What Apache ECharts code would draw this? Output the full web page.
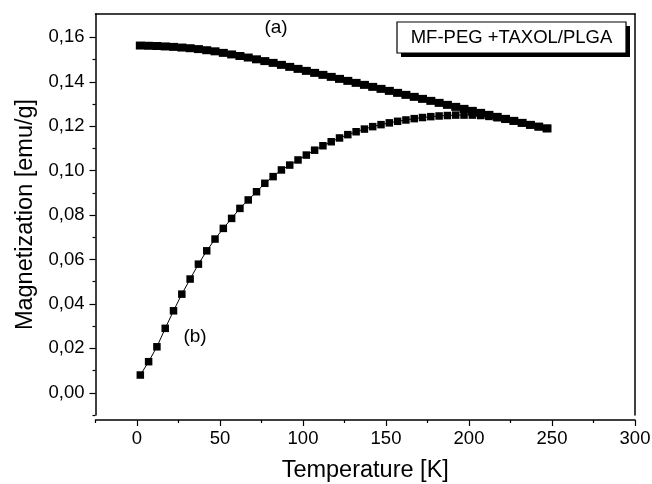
<!DOCTYPE html>
<html><head><meta charset="utf-8">
<script src="https://cdn.jsdelivr.net/npm/echarts@6/dist/echarts.min.js"></script>
<style>html,body{margin:0;padding:0;background:#fff}#c{width:652px;height:484px}</style>
</head><body><div id="c"></div>
<script>
const temperature = [2,7,12,17,22,27,32,37,42,47,52,57,62,67,72,77,82,87,92,97,102,107,112,117,122,127,132,137,142,147,152,157,162,167,172,177,182,187,192,197,202,207,212,217,222,227,232,237,242,247];
const magA = [0.1563,0.1562,0.1561,0.1559,0.1557,0.1554,0.1551,0.1547,0.1542,0.1537,0.1530,0.1523,0.1516,0.1509,0.1501,0.1493,0.1485,0.1476,0.1467,0.1458,0.1449,0.1440,0.1431,0.1422,0.1413,0.1404,0.1395,0.1386,0.1377,0.1368,0.1359,0.1350,0.1341,0.1332,0.1323,0.1314,0.1305,0.1296,0.1287,0.1278,0.1269,0.1260,0.1251,0.1242,0.1233,0.1224,0.1215,0.1206,0.1198,0.1190];
const magB = [0.0080,0.0140,0.0207,0.0290,0.0369,0.0444,0.0512,0.0579,0.0639,0.0692,0.0740,0.0785,0.0830,0.0868,0.0905,0.0943,0.0973,0.1003,0.1025,0.1048,0.1070,0.1092,0.1112,0.1130,0.1147,0.1162,0.1175,0.1187,0.1198,0.1207,0.1215,0.1222,0.1228,0.1234,0.1239,0.1243,0.1246,0.1248,0.1250,0.1250,0.1250,0.1248,0.1244,0.1238,0.1231,0.1223,0.1215,0.1206,0.1198,0.1190];
const xMajorTicks = [0,50,100,150,200,250,300];
const xMinorTicks = [-25,25,75,125,175,225,275];
const yMajorTicks = [0,0.02,0.04,0.06,0.08,0.10,0.12,0.14,0.16];
const yMinorTicks = [-0.01,0.01,0.03,0.05,0.07,0.09,0.11,0.13,0.15];
const xTitle = 'Temperature [K]';
const yTitle = 'Magnetization [emu/g]';
const sampleName = 'MF-PEG +TAXOL/PLGA';
const curveLabels = ['(a)', '(b)'];

const FONT = '"Liberation Sans", Arial, sans-serif';
const chart = echarts.init(document.getElementById('c'), null, {renderer: 'canvas'});
const line = {lineStyle: {color: '#000', width: 1.5}};
const pairs = (ys) => temperature.map((t, i) => [t, ys[i]]);

chart.setOption({
  animation: false,
  backgroundColor: '#fff',
  grid: {left: 95.5, right: 17, top: 14, bottom: 69, containLabel: false, outerBoundsMode: 'none'},
  xAxis: [
    {type: 'value', position: 'bottom', offset: 5, min: -25, max: 300,
     axisLine: {show: true, onZero: false, ...line},
     axisTick: {show: true, inside: false, length: 6, customValues: xMajorTicks, lineStyle: {color: '#000', width: 1.2}},
     axisLabel: {show: true, customValues: xMajorTicks, color: '#000', fontSize: 18.5, fontFamily: FONT, margin: 9},
     splitLine: {show: false},
     name: xTitle, nameLocation: 'middle', nameGap: 39,
     nameTextStyle: {color: '#000', fontSize: 23.5, fontFamily: FONT}},
    {type: 'value', position: 'bottom', offset: 5, min: -25, max: 300,
     axisLine: {show: false, onZero: false},
     axisTick: {show: true, length: 3, customValues: xMinorTicks, lineStyle: {color: '#000', width: 1.2}},
     axisLabel: {show: false}, splitLine: {show: false}},
    {type: 'value', position: 'top', min: -25, max: 300,
     axisLine: {show: true, onZero: false, ...line},
     axisTick: {show: false}, axisLabel: {show: false}, splitLine: {show: false}}
  ],
  yAxis: [
    {type: 'value', position: 'left', min: -0.01, max: 0.1705,
     axisLine: {show: true, onZero: false, ...line},
     axisTick: {show: true, length: 6, customValues: yMajorTicks, lineStyle: {color: '#000', width: 1.2}},
     axisLabel: {show: true, customValues: yMajorTicks, color: '#000', fontSize: 18.5, fontFamily: FONT, margin: 11,
       formatter: v => v.toFixed(2).replace('.', ',')},
     splitLine: {show: false},
     name: yTitle, nameLocation: 'middle', nameGap: 54,
     nameTextStyle: {color: '#000', fontSize: 23.5, fontFamily: FONT}},
    {type: 'value', position: 'left', min: -0.01, max: 0.1705,
     axisLine: {show: false, onZero: false},
     axisTick: {show: true, length: 3, customValues: yMinorTicks, lineStyle: {color: '#000', width: 1.2}},
     axisLabel: {show: false}, splitLine: {show: false}},
    {type: 'value', position: 'right', min: -0.01, max: 0.1705,
     axisLine: {show: true, onZero: false, ...line},
     axisTick: {show: false}, axisLabel: {show: false}, splitLine: {show: false}}
  ],
  series: [
    {name: curveLabels[0], type: 'line', xAxisIndex: 0, yAxisIndex: 0, data: pairs(magA),
     symbol: 'rect', symbolSize: [9, 8], showAllSymbol: true,
     itemStyle: {color: '#000'}, lineStyle: {color: '#000', width: 1}},
    {name: curveLabels[1], type: 'line', xAxisIndex: 0, yAxisIndex: 0, data: pairs(magB),
     symbol: 'rect', symbolSize: 7.5, showAllSymbol: true,
     itemStyle: {color: '#000'}, lineStyle: {color: '#000', width: 1}}
  ],
  graphic: [
    {type: 'rect', shape: {x: 401, y: 26, width: 229, height: 31}, style: {fill: '#000'}},
    {type: 'rect', shape: {x: 397, y: 22, width: 229, height: 31}, style: {fill: '#fff', stroke: '#000', lineWidth: 1.2}},
    {type: 'text', x: 511.5, y: 38, style: {text: sampleName, fill: '#000', font: '18.5px ' + FONT, textAlign: 'center', textVerticalAlign: 'middle'}},
    {type: 'text', x: 276, y: 28, style: {text: curveLabels[0], fill: '#000', font: '19px ' + FONT, textAlign: 'center', textVerticalAlign: 'middle'}},
    {type: 'text', x: 195, y: 337, style: {text: curveLabels[1], fill: '#000', font: '19px ' + FONT, textAlign: 'center', textVerticalAlign: 'middle'}}
  ]
});
</script></body></html>
